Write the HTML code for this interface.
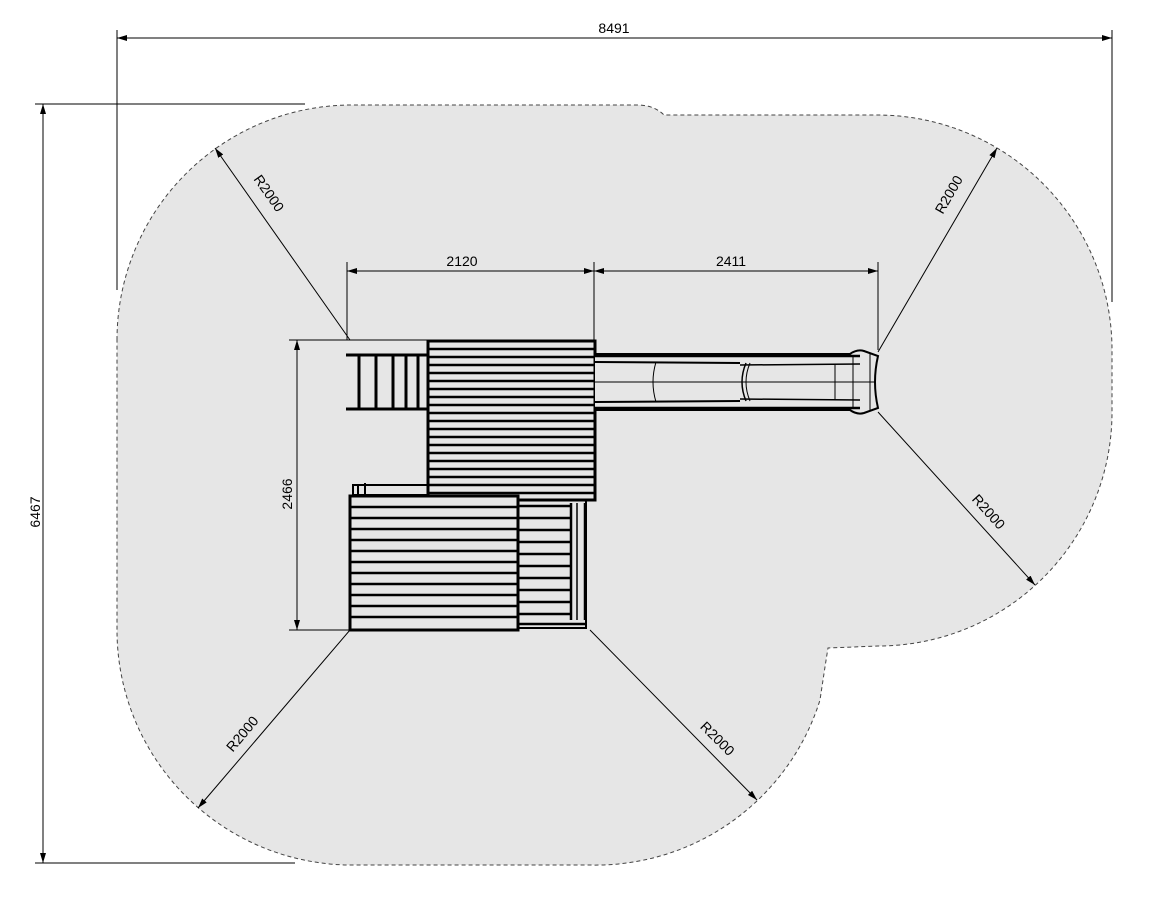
<!DOCTYPE html>
<html><head><meta charset="utf-8"><style>html,body{margin:0;padding:0;background:#fff}svg{display:block}</style></head>
<body>
<svg width="1169" height="918" viewBox="0 0 1169 918" xmlns="http://www.w3.org/2000/svg" font-family="Liberation Sans, sans-serif">
<defs>
<marker id="a" viewBox="0 0 10 6" refX="10" refY="3" markerWidth="10" markerHeight="6" orient="auto-start-reverse" markerUnits="userSpaceOnUse"><path d="M0,0 L10,3 L0,6 Z" fill="#000"/></marker>
</defs>
<path d="M117,340 A235,235 0 0 1 350,105 L640,105 Q655,106 664,115 L878,115 A235,235 0 0 1 1112,350 L1112,410 A234,234 0 0 1 878,646 L828,648 Q826,660 820,700 A235,235 0 0 1 590,865 L350,865 A235,235 0 0 1 117,630 Z" fill="#e6e6e6" stroke="#444" stroke-width="1" stroke-dasharray="4,3"/>
<g stroke="#000" stroke-width="1" fill="none">
<!-- top dim -->
<line x1="117" y1="30" x2="117" y2="290"/><line x1="1112" y1="30" x2="1112" y2="302"/>
<line x1="117" y1="38" x2="1112" y2="38" marker-start="url(#a)" marker-end="url(#a)"/>
<!-- left dim -->
<line x1="35" y1="104" x2="305" y2="104"/><line x1="35" y1="863" x2="295" y2="863"/>
<line x1="43" y1="104" x2="43" y2="863" marker-start="url(#a)" marker-end="url(#a)"/>
<!-- 2120 / 2411 -->
<line x1="347" y1="262" x2="347" y2="340"/><line x1="594" y1="262" x2="594" y2="340"/><line x1="878" y1="262" x2="878" y2="350"/>
<line x1="347" y1="271" x2="594" y2="271" marker-start="url(#a)" marker-end="url(#a)"/>
<line x1="594" y1="271" x2="878" y2="271" marker-start="url(#a)" marker-end="url(#a)"/>
<!-- 2466 -->
<line x1="289" y1="340" x2="430" y2="340"/><line x1="289" y1="630" x2="350" y2="630"/>
<line x1="297" y1="340" x2="297" y2="630" marker-start="url(#a)" marker-end="url(#a)"/>
<!-- radii -->
<line x1="350" y1="340" x2="215" y2="148" marker-end="url(#a)"/>
<line x1="878" y1="352" x2="997" y2="148" marker-end="url(#a)"/>
<line x1="878" y1="412" x2="1035" y2="585" marker-end="url(#a)"/>
<line x1="350" y1="630" x2="198" y2="808" marker-end="url(#a)"/>
<line x1="590" y1="630" x2="757" y2="800" marker-end="url(#a)"/>
</g>
<g font-size="14" fill="#000" text-anchor="middle">
<text x="614" y="33">8491</text>
<text x="462" y="266">2120</text>
<text x="731" y="266">2411</text>
<text transform="translate(40,512) rotate(-90)">6467</text>
<text transform="translate(292,494) rotate(-90)">2466</text>
<text transform="translate(265,196) rotate(55)">R2000</text>
<text transform="translate(953,197) rotate(-60)">R2000</text>
<text transform="translate(985,515) rotate(48)">R2000</text>
<text transform="translate(246,737) rotate(-50)">R2000</text>
<text transform="translate(714,742) rotate(45)">R2000</text>
</g>
<!-- ladder -->
<g stroke="#000" stroke-width="3" fill="none">
<line x1="346" y1="355" x2="428" y2="355"/><line x1="346" y1="409" x2="428" y2="409"/>
<line x1="359" y1="355" x2="359" y2="409"/><line x1="376" y1="355" x2="376" y2="409"/><line x1="393" y1="355" x2="393" y2="409"/><line x1="406" y1="355" x2="406" y2="409"/><line x1="418" y1="355" x2="418" y2="409"/>
</g>
<!-- right lower section -->
<g stroke="#000" fill="#e6e6e6">
<rect x="518" y="500" width="68" height="128" stroke-width="2"/>
</g>
<g stroke="#000" stroke-width="2.5">
<line x1="518" y1="506" x2="570" y2="506"/><line x1="518" y1="518" x2="570" y2="518"/><line x1="518" y1="530" x2="570" y2="530"/><line x1="518" y1="542" x2="570" y2="542"/><line x1="518" y1="554" x2="570" y2="554"/><line x1="518" y1="566" x2="570" y2="566"/><line x1="518" y1="578" x2="570" y2="578"/><line x1="518" y1="590" x2="570" y2="590"/><line x1="518" y1="602" x2="570" y2="602"/><line x1="518" y1="614" x2="570" y2="614"/><line x1="518" y1="624" x2="586" y2="624"/>
<line x1="571" y1="503" x2="571" y2="620"/><line x1="577" y1="503" x2="577" y2="620" stroke-width="1.5"/><line x1="585" y1="503" x2="585" y2="620"/>
</g>
<!-- upper platform -->
<rect x="428" y="341" width="167" height="159" fill="#e6e6e6" stroke="#000" stroke-width="3"/>
<g stroke="#000" stroke-width="2.5">
<line x1="428" y1="349" x2="595" y2="349"/><line x1="428" y1="357" x2="595" y2="357"/><line x1="428" y1="365" x2="595" y2="365"/><line x1="428" y1="373" x2="595" y2="373"/><line x1="428" y1="381" x2="595" y2="381"/><line x1="428" y1="389" x2="595" y2="389"/><line x1="428" y1="397" x2="595" y2="397"/><line x1="428" y1="405" x2="595" y2="405"/><line x1="428" y1="413" x2="595" y2="413"/><line x1="428" y1="421" x2="595" y2="421"/><line x1="428" y1="429" x2="595" y2="429"/><line x1="428" y1="437" x2="595" y2="437"/><line x1="428" y1="445" x2="595" y2="445"/><line x1="428" y1="453" x2="595" y2="453"/><line x1="428" y1="461" x2="595" y2="461"/><line x1="428" y1="469" x2="595" y2="469"/><line x1="428" y1="477" x2="595" y2="477"/><line x1="428" y1="485" x2="595" y2="485"/><line x1="428" y1="493" x2="595" y2="493"/>
</g>
<!-- small rail top-left of lower deck -->
<g stroke="#000" stroke-width="2" fill="none"><rect x="353" y="485" width="75" height="10"/><line x1="358" y1="485" x2="358" y2="495"/><line x1="365" y1="483" x2="365" y2="495"/></g>
<!-- lower deck -->
<rect x="350" y="496" width="168" height="134" fill="#e6e6e6" stroke="#000" stroke-width="3"/>
<g stroke="#000" stroke-width="2.5">
<line x1="350" y1="507" x2="518" y2="507"/><line x1="350" y1="518" x2="518" y2="518"/><line x1="350" y1="529" x2="518" y2="529"/><line x1="350" y1="540" x2="518" y2="540"/><line x1="350" y1="551" x2="518" y2="551"/><line x1="350" y1="562" x2="518" y2="562"/><line x1="350" y1="573" x2="518" y2="573"/><line x1="350" y1="584" x2="518" y2="584"/><line x1="350" y1="595" x2="518" y2="595"/><line x1="350" y1="606" x2="518" y2="606"/><line x1="350" y1="617" x2="518" y2="617"/>
</g>
<!-- slide -->
<g fill="none" stroke="#000">
<path d="M595,354 L850,354 Q857,349 864,351 L878,356 Q872,382 878,408 L864,413 Q857,415 850,410 L595,410" fill="#e6e6e6" stroke-width="2"/>
<line x1="595" y1="356" x2="860" y2="356" stroke-width="2.5"/>
<line x1="595" y1="362" x2="740" y2="363" stroke-width="2"/>
<line x1="740" y1="365" x2="860" y2="364" stroke-width="1.5"/>
<line x1="595" y1="402" x2="740" y2="401" stroke-width="2"/>
<line x1="740" y1="399" x2="860" y2="400" stroke-width="1.5"/>
<line x1="595" y1="408" x2="860" y2="408" stroke-width="2.5"/>
<line x1="595" y1="382" x2="876" y2="382" stroke-width="1"/>
<path d="M656,362 Q650,382 656,402" stroke-width="1"/>
<path d="M746,363 Q738,382 746,401" stroke-width="1.5"/>
<path d="M750,363 Q742,382 750,401" stroke-width="1"/>
<line x1="835" y1="364" x2="835" y2="400" stroke-width="1"/>
<line x1="853" y1="356" x2="853" y2="408" stroke-width="1"/>
<line x1="870" y1="354" x2="870" y2="410" stroke-width="1"/>
</g>
</svg>
</body></html>
